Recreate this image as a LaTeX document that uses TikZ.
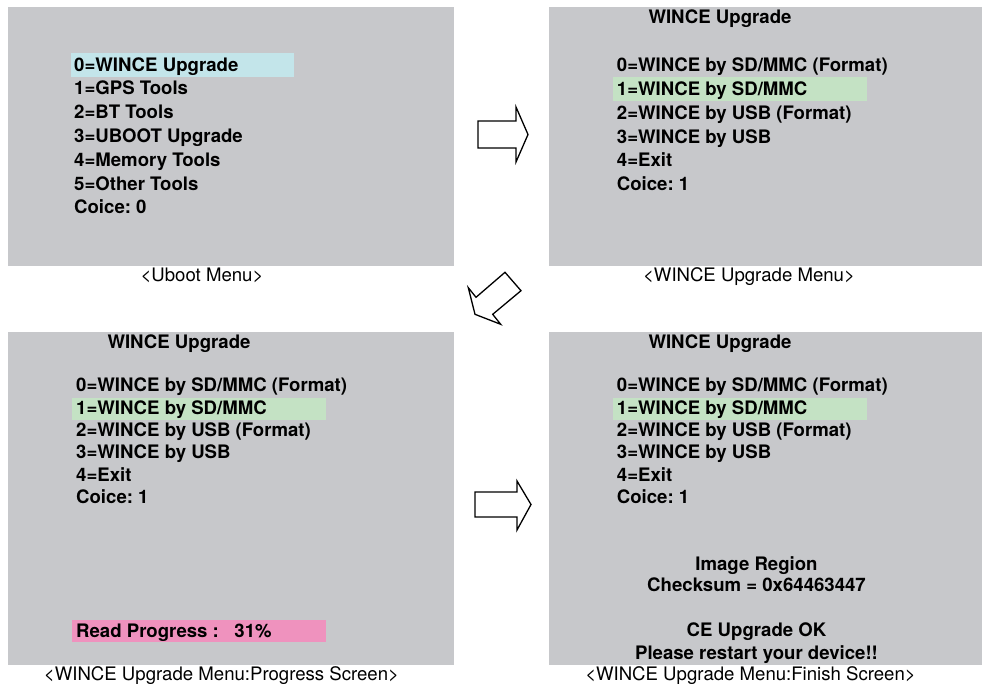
\documentclass[tikz,border=0pt]{standalone}
\usepackage{fontspec}
\setmainfont{TeX Gyre Heros}
\frenchspacing
\definecolor{screen}{RGB}{199,200,203}
\definecolor{selblue}{RGB}{195,229,234}
\definecolor{selgreen}{RGB}{196,226,196}
\definecolor{barpink}{RGB}{239,146,190}

\tikzset{
  panel/.style={fill=screen,draw=none},
  menuline/.style={anchor=base west,inner sep=0pt,font=\bfseries\fontsize{18.6}{21}\selectfont},
  midline/.style={menuline,anchor=base},
  caption/.style={anchor=base,inner sep=0pt,font=\fontsize{18.6}{21}\selectfont},
  blockarrow/.style={draw=black,fill=white,line width=1.3pt}
}

\begin{document}
\begin{tikzpicture}[x=1pt,y=-1pt]
        \useasboundingbox (0,0) rectangle (982,683);
        % four screens
        \fill[panel] (8,7) rectangle (454,266);
        \fill[panel] (549,7) rectangle (982,266);
        \fill[panel] (8,332) rectangle (454,664.7);
        \fill[panel] (549,332) rectangle (982,664.7);

        % highlights
        \fill[selblue] (71,52.7) rectangle (294,77.3);
        \fill[selgreen] (612.7,77.3) rectangle (867.3,100.7);
        \fill[selgreen] (72,397.7) rectangle (326,420);
        \fill[selgreen] (612.7,397.7) rectangle (867.3,420);
        \fill[barpink] (72,620) rectangle (326,641.7);

        % uboot menu
        \foreach \txt [count=\i from 0] in {0=WINCE Upgrade,1=GPS Tools,2=BT Tools,
            3=UBOOT Upgrade,4=Memory Tools,5=Other Tools,Coice: 0}
          \node[menuline] (uboot-\i) at (74,71+23.83*\i) {\txt};
        \node[caption] (uboot-cap) at (202,281) {<Uboot Menu>};

        % wince upgrade menu
        \node[midline] (wince-title) at (720,23.3) {WINCE Upgrade};
        \foreach \txt [count=\i from 0] in {0=WINCE by SD/MMC (Format),1=WINCE by SD/MMC,
            2=WINCE by USB (Format),3=WINCE by USB,4=Exit,Coice: 1}
          \node[menuline] (wince-\i) at (616.7,71.7+23.8*\i) {\txt};
        \node[caption] (wince-cap) at (749,281.5) {<WINCE Upgrade Menu>};

        % progress screen
        \node[midline] (prog-title) at (179,348.3) {WINCE Upgrade};
        \foreach \txt [count=\i from 0] in {0=WINCE by SD/MMC (Format),1=WINCE by SD/MMC,
            2=WINCE by USB (Format),3=WINCE by USB,4=Exit,Coice: 1}
          \node[menuline] (prog-\i) at (76,391.7+22.33*\i) {\txt};
        \node[menuline] (prog-bar) at (76,637.3) {Read Progress :\ \ \ 31\%};
        \node[caption] (prog-cap) at (221.5,680) {<WINCE Upgrade Menu:Progress Screen>};

        % finish screen
        \node[midline] (fin-title) at (720,348.3) {WINCE Upgrade};
        \foreach \txt [count=\i from 0] in {0=WINCE by SD/MMC (Format),1=WINCE by SD/MMC,
            2=WINCE by USB (Format),3=WINCE by USB,4=Exit,Coice: 1}
          \node[menuline] (fin-\i) at (616.7,391.7+22.33*\i) {\txt};
        \node[midline] (fin-region) at (756.5,570) {Image Region};
        \node[midline] (fin-sum) at (756.5,591.7) {Checksum = 0x64463447};
        \node[midline] (fin-ok) at (756.5,636.7) {CE Upgrade OK};
        \node[midline] (fin-restart) at (756.5,659) {Please restart your device!!};
        \node[caption] (fin-cap) at (750.5,680) {<WINCE Upgrade Menu:Finish Screen>};

        % block arrows
        \draw[blockarrow] (478,121) -- (516,121) -- (516,107) -- (528,134.5)
          -- (516,162) -- (516,148) -- (478,148) -- cycle;
        \draw[blockarrow] (505,272.3) -- (521,290.7) -- (492.7,314.3) -- (500.7,324.3)
          -- (475,314.3) -- (468.3,287.7) -- (476,297.3) -- cycle;
        \draw[blockarrow] (475,492) -- (517,492) -- (517,481) -- (531,504.5)
          -- (517,530) -- (517,517) -- (475,517) -- cycle;
      \end{tikzpicture}
\end{document}
